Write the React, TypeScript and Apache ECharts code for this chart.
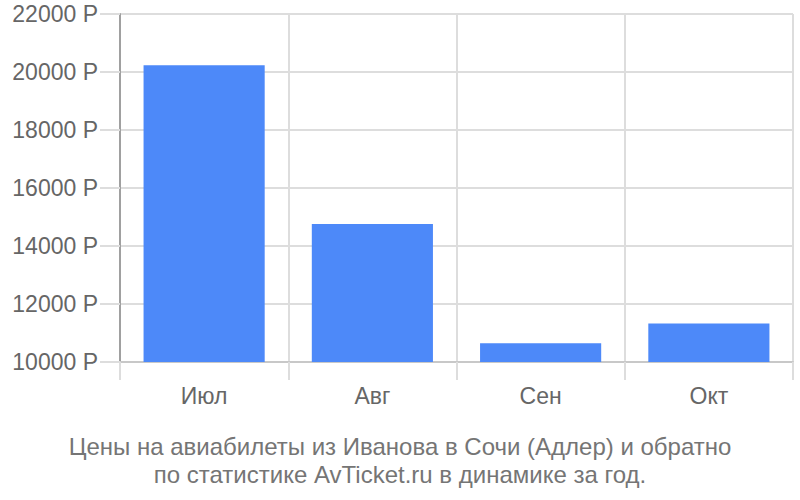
import React, { useEffect, useRef } from "react";
import * as echarts from "echarts";

const categories = ["Июл", "Авг", "Сен", "Окт"];
const prices = [20230, 14760, 10650, 11330];
const yMin = 10000;
const yMax = 22000;
const yInterval = 2000;
const titleLines = [
  "Цены на авиабилеты из Иванова в Сочи (Адлер) и обратно",
  "по статистике AvTicket.ru в динамике за год.",
];

export default function App() {
  const ref = useRef<HTMLDivElement>(null);
  useEffect(() => {
    const chart = echarts.init(ref.current!, null, { renderer: "svg" });
    const font = "'Liberation Sans', Arial, sans-serif";
    chart.setOption({
      animation: false,
      textStyle: { fontFamily: font },
      title: {
        text: titleLines.join("\n"),
        left: "center",
        top: 427,
        textStyle: {
          fontFamily: font,
          fontSize: 24,
          fontWeight: "normal",
          color: "#757575",
          lineHeight: 28,
        },
      },
      grid: { left: 120, right: 7, top: 14, bottom: 138 },
      xAxis: {
        type: "category",
        data: categories,
        boundaryGap: true,
        axisLine: { show: true, lineStyle: { color: "#c8c8c8", width: 2 } },
        axisTick: { show: true, length: 18, lineStyle: { color: "#dddddd", width: 2 } },
        splitLine: { show: true, lineStyle: { color: "#dddddd", width: 2 } },
        axisLabel: { fontSize: 23, color: "#666666", margin: 22, fontFamily: font },
      },
      yAxis: {
        type: "value",
        min: yMin,
        max: yMax,
        interval: yInterval,
        axisLine: { show: true, lineStyle: { color: "#a0a0a0", width: 2 } },
        axisTick: { show: true, length: 20, lineStyle: { color: "#dddddd", width: 2 } },
        splitLine: { show: true, lineStyle: { color: "#dddddd", width: 2 } },
        axisLabel: {
          fontSize: 23,
          color: "#666666",
          margin: 22,
          fontFamily: font,
          formatter: (v: number) => v + " Р",
        },
      },
      series: [
        {
          type: "bar",
          data: prices,
          barWidth: "72%",
          itemStyle: { color: "#4d89f9" },
        },
      ],
    });
    return () => chart.dispose();
  }, []);
  return (
    <div
      ref={ref}
      style={{ position: "absolute", left: 0, top: 0, width: 800, height: 500 }}
    />
  );
}
